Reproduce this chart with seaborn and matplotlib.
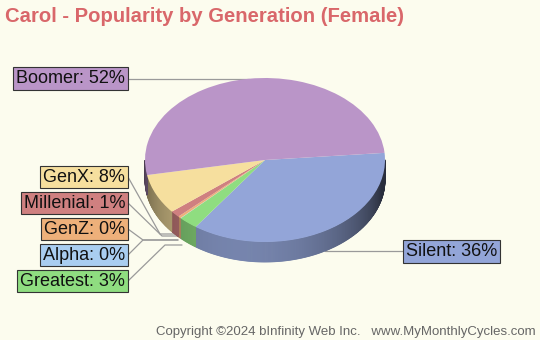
import numpy as np
import matplotlib
matplotlib.use("Agg")
import matplotlib.pyplot as plt
import seaborn as sns

# -----------------------------
# DATA
# -----------------------------
generations = ["Silent", "Greatest", "Alpha", "GenZ", "Millenial", "GenX", "Boomer"]
shares = [36.2, 2.6, 0.05, 0.4, 1.3, 7.9, 51.55]
colors = ["#93a5d8", "#8fdd80", "#a9cdf0", "#eeb07a", "#cf8080", "#f6df9e", "#ba95c8"]

title = "Carol - Popularity by Generation (Female)"
footer = "Copyright \u00a92024 bInfinity Web Inc.   www.MyMonthlyCycles.com"

bg = "#fcfcee"

sns.set_theme(style="white")
plt.rcParams["font.family"] = ["Liberation Sans", "DejaVu Sans"]

# pixel layout of the pie (center, radii, thickness)
CX, CY, RX, RY = 265, 160, 120, 82
DEPTH = 20 / RY


def px(x, y):
    # convert pixel position (from top-left) to data units
    return (x - CX) / RX, (CY - y) / RY


fig = plt.figure(figsize=(5.4, 3.4), dpi=100, facecolor=bg)
ax = fig.add_axes([0, 0, 1, 1])
ax.set_facecolor(bg)

# top face of the pie
wedges, _ = ax.pie(shares, colors=colors, startangle=5, counterclock=False,
                   radius=1, frame=True, wedgeprops=dict(linewidth=0, zorder=3))


# side wall, shaded by angle
def shade(hex_color, a):
    f = 0.28 + 0.52 * max(0.0, np.cos(np.radians(a - 258)))
    rgb = np.array(matplotlib.colors.to_rgb(hex_color))
    return tuple(rgb * f)


for w, c in zip(wedges, colors):
    steps = np.arange(w.theta1, w.theta2 + 0.5, 0.5)
    steps[-1] = min(steps[-1], w.theta2)
    if steps[-1] < w.theta2:
        steps = np.append(steps, w.theta2)
    for a1, a2 in zip(steps[:-1], steps[1:]):
        mid = (a1 + a2) / 2
        if np.sin(np.radians(mid)) >= 0:
            continue
        r1, r2 = np.radians(a1), np.radians(a2)
        xs = [np.cos(r1), np.cos(r2), np.cos(r2), np.cos(r1)]
        ys = [np.sin(r1), np.sin(r2), np.sin(r2) - DEPTH, np.sin(r1) - DEPTH]
        col = shade(c, mid)
        ax.fill(xs, ys, color=col, lw=0.6, ec=col, zorder=2)

# -----------------------------
# LABELS AND LEADER LINES
# -----------------------------
line_kw = dict(color="#9a9a9a", lw=0.9, zorder=1)
box_kw = dict(boxstyle="square,pad=0.16", ec="#333333", lw=0.8)
label_size = 13


def label_text(name):
    i = generations.index(name)
    return f"{name}: {round(shares[i])}%"


def mid_angle(name):
    w = wedges[generations.index(name)]
    return np.radians((w.theta1 + w.theta2) / 2)


# Boomer: line from the top rim to the label on the left
a = mid_angle("Boomer")
ax.plot([px(128, 0)[0], np.cos(a)], [np.sin(a), np.sin(a)], **line_kw)
bx, by = px(125, 0)[0], np.sin(a)
ax.text(bx, by, label_text("Boomer"), ha="right", va="center", fontsize=label_size,
        color="#111111", bbox=dict(fc=colors[6], **box_kw), zorder=5)

# Silent: line from the bottom rim to the label on the right
a = mid_angle("Silent")
sy = np.sin(a) - DEPTH
ax.plot([np.cos(a), px(403, 0)[0]], [sy, sy], **line_kw)
ax.text(px(406, 0)[0], sy, label_text("Silent"), ha="left", va="center", fontsize=label_size,
        color="#111111", bbox=dict(fc=colors[0], **box_kw), zorder=5)

# left group of small slices
left_labels = ["GenX", "Millenial", "GenZ", "Alpha", "Greatest"]
left_y = [177, 203, 229, 255, 281]
elbows = [(160, 234), (162, 236), (143, 240), (143, 240), (165, 245)]
ends = [176, 178, 178, 178, 182]

for name, ly, (ex, ey), endx in zip(left_labels, left_y, elbows, ends):
    p0 = px(128, ly)
    p1 = px(ex, ey)
    p2 = px(endx, ey)
    ax.plot([p0[0], p1[0], p2[0]], [p0[1], p1[1], p2[1]], **line_kw)
    tx, ty = px(125, ly)
    ax.text(tx, ty, label_text(name), ha="right", va="center", fontsize=label_size,
            color="#111111", bbox=dict(fc=colors[generations.index(name)], **box_kw), zorder=5)

ax.set_aspect("auto")
x0, _ = px(0, 0)
x1, _ = px(540, 0)
_, y0 = px(0, 340)
_, y1 = px(0, 0)
ax.set_xlim(x0, x1)
ax.set_ylim(y0, y1)
ax.axis("off")

fig.text(5 / 540, 1 - 16 / 340, title, ha="left", va="center", fontsize=14.6,
         fontweight="bold", color="#d9676a")
fig.text(536 / 540, 1 - 332 / 340, footer, ha="right", va="center", fontsize=9.5,
         color="#666666")

fig.savefig("out.png", dpi=100, facecolor=bg)
